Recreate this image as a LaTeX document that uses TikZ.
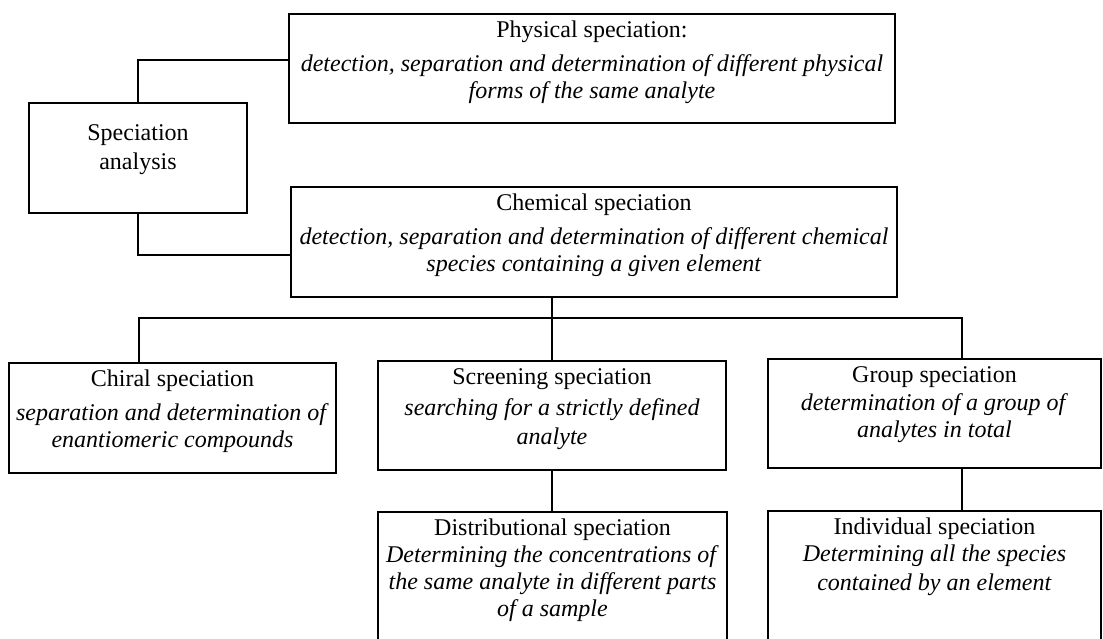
\documentclass[tikz,border=0pt]{standalone}
\usepackage{fontspec}
\setmainfont{Liberation Serif}
\tikzset{
  bx/.style={draw, line width=2.4pt, rectangle, inner sep=0pt, outer sep=0pt},
  tx/.style={anchor=north, align=center, inner sep=0pt, font=\fontsize{24}{27}\selectfont},
  ln/.style={line width=2.4pt, line cap=rect}
}
\begin{document}
\begin{tikzpicture}[x=1pt,y=-1pt]
\useasboundingbox (0,0) rectangle (1103,639);
% boxes
\node[bx, minimum width=218, minimum height=110] (spec) at (138,158) {};
\node[bx, minimum width=606, minimum height=109] (phys) at (592,68.5) {};
\node[bx, minimum width=606, minimum height=110] (chem) at (594,242) {};
\node[bx, minimum width=327, minimum height=110] (chiral) at (172.5,418) {};
\node[bx, minimum width=348, minimum height=109] (screen) at (552,415.5) {};
\node[bx, minimum width=333, minimum height=109] (group) at (934.5,413.5) {};
\node[bx, minimum width=349, minimum height=148] (distrib) at (552.5,586) {};
\node[bx, minimum width=333, minimum height=149] (indiv) at (934.5,585.5) {};
% texts
\node[tx] (specT) at ([yshift=-21.5pt]spec.north) {Speciation\\[2pt]analysis};
\node[tx] (physT) at ([yshift=-7pt]phys.north) {Physical speciation:\\[7pt]\textit{detection, separation and determination of different physical}\\\textit{forms of the same analyte}};
\node[tx] (chemT) at ([yshift=-7pt]chem.north) {Chemical speciation\\[7pt]\textit{detection, separation and determination of different chemical}\\\textit{species containing a given element}};
\node[tx] (chiralT) at ([yshift=-7pt]chiral.north) {Chiral speciation\\[7pt]\textit{separation and determination of}\\\textit{enantiomeric compounds}};
\node[tx] (screenT) at ([yshift=-7pt]screen.north) {Screening speciation\\[4pt]\textit{searching for a strictly defined}\\[2pt]\textit{analyte}};
\node[tx] (groupT) at ([yshift=-7pt]group.north) {Group speciation\\[1pt]\textit{determination of a group of}\\\textit{analytes in total}};
\node[tx] (distribT) at ([yshift=-7pt]distrib.north) {Distributional speciation\\\textit{Determining the concentrations of}\\\textit{the same analyte in different parts}\\\textit{of a sample}};
\node[tx] (indivT) at ([yshift=-7pt]indiv.north) {Individual speciation\\\textit{Determining all the species}\\[2pt]\textit{contained by an element}};
% connectors
\coordinate (busL) at (139,318);
\coordinate (busR) at (962,318);
\draw[ln] (spec.north) |- ([yshift=8.5pt]phys.west);
\draw[ln] (spec.south) |- ([yshift=-13pt]chem.west);
\draw[ln] (screen.north) -- (screen.north |- chem.south);
\draw[ln] (busL) -- (busR);
\draw[ln] (busL) -- (busL |- chiral.north);
\draw[ln] (busR) -- (busR |- group.north);
\draw[ln] (screen.south) -- (screen.south |- distrib.north);
\draw[ln] (busR |- group.south) -- (busR |- indiv.north);
\end{tikzpicture}
\end{document}
